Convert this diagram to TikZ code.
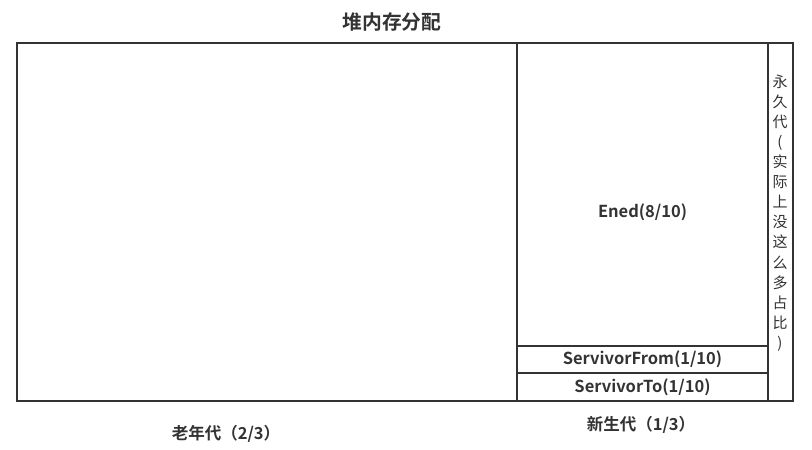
\documentclass[tikz,border=0pt]{standalone}
\usepackage{fontspec}
\setmainfont{Noto Sans CJK SC}
\newfontfamily\cjkb{Noto Sans CJK SC Bold}
\definecolor{lineC}{HTML}{333333}
\definecolor{textC}{HTML}{333333}
\begin{document}
\begin{tikzpicture}[x=1pt,y=-1pt,
  box/.style={draw=lineC,line width=2pt,inner sep=0pt,outer sep=0pt},
  lbl/.style={text=textC,font=\cjkb\fontsize{16.5}{18}\selectfont,inner sep=0pt}]
\useasboundingbox (0,0) rectangle (812,450);
\node[lbl,font=\cjkb\fontsize{19.8}{22}\selectfont] (title) at (392,22) {堆内存分配};
\node[box,minimum width=500pt,minimum height=358pt] (old) at (267,222) {};
\node[box,minimum width=251pt,minimum height=303pt] (eden) at (642.5,194.5) {};
\node[box,minimum width=251pt,minimum height=27pt] (from) at (642.5,359.5) {};
\node[box,minimum width=251pt,minimum height=28pt] (to) at (642.5,387) {};
\node[box,minimum width=25pt,minimum height=358pt] (perm) at (780.5,222) {};
\node[lbl] (edenT) at (642.5,212) {Ened(8/10)};
\node[lbl] (fromT) at (from.center) {ServivorFrom(1/10)};
\node[lbl] (toT) at (to.center) {ServivorTo(1/10)};
\node[lbl,align=center,font=\fontsize{15}{20.1}\selectfont] (permT) at (780,213)
  {永\\久\\代\\(\\实\\际\\上\\没\\这\\么\\多\\占\\比\\)};
\node[lbl] (oldT) at (226,434) {老年代（2/3）};
\node[lbl] (newT) at (641,425) {新生代（1/3）};
\end{tikzpicture}
\end{document}
